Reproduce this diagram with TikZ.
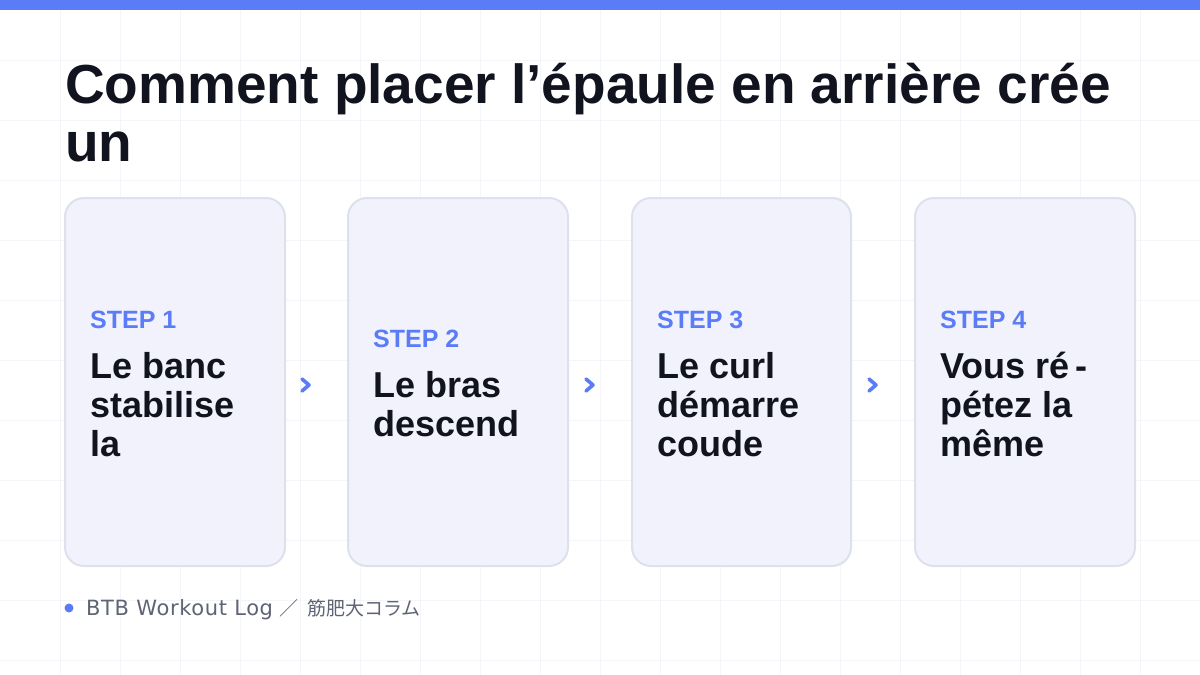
\documentclass[tikz,border=0pt]{standalone}
\usepackage{fontspec}
\setmainfont{Liberation Sans}
\newfontfamily\footfont[LetterSpace=3]{DejaVu Sans}
\newfontfamily\cjkfont{Noto Sans CJK JP}
\definecolor{accent}{HTML}{5B7CF7}
\definecolor{ink}{HTML}{11131F}
\definecolor{cardfill}{HTML}{F1F2FB}
\definecolor{cardline}{HTML}{DDE1EE}
\definecolor{gridc}{HTML}{F4F5F8}
\definecolor{muted}{HTML}{5F6474}
\tikzset{
  card/.style={draw=cardline, line width=2pt, fill=cardfill, rounded corners=19pt},
  steplabel/.style={anchor=base west, inner sep=0pt, text=accent, font=\fontsize{25}{28}\selectfont\bfseries},
  body/.style={anchor=base west, inner sep=0pt, text=ink, font=\fontsize{36}{39}\selectfont\bfseries, align=left},
  titletext/.style={anchor=base west, inner sep=0pt, text=ink, font=\fontsize{55}{58}\selectfont\bfseries},
  chevline/.style={draw=accent, line width=3.6pt, line cap=round, line join=round},
}
\begin{document}
\begin{tikzpicture}[x=1pt,y=-1pt]
\useasboundingbox (0,0) rectangle (1200,675);
\fill[white] (0,0) rectangle (1200,675);
\foreach \i in {60,120,...,1140} \draw[gridc, line width=1pt] (\i,10) -- (\i,675);
\foreach \j in {60,120,...,660} \draw[gridc, line width=1pt] (0,\j) -- (1200,\j);
\fill[accent] (0,0) rectangle (1200,10);
% title
\node[titletext] (t1) at (65,103) {Comment placer l’épaule en arrière crée};
\node[titletext] (t2) at (65,161) {un};
% cards
\draw[card] (65,198) rectangle (285,566);
\draw[card] (348,198) rectangle (568,566);
\draw[card] (632,198) rectangle (851,566);
\draw[card] (915,198) rectangle (1135,566);
% card texts
\node[steplabel] (s1) at (90,328) {STEP 1};
\node[body] (b1a) at (90,378) {Le banc};
\node[body] (b1b) at (90,417) {stabilise};
\node[body] (b1c) at (90,456) {la};
\node[steplabel] (s2) at (373,347) {STEP 2};
\node[body] (b2a) at (373,397) {Le bras};
\node[body] (b2b) at (373,436) {descend};
\node[steplabel] (s3) at (657,328) {STEP 3};
\node[body] (b3a) at (657,378) {Le curl};
\node[body] (b3b) at (657,417) {démarre};
\node[body] (b3c) at (657,456) {coude};
\node[steplabel] (s4) at (940,328) {STEP 4};
\node[body] (b4a) at (940,378) {Vous ré\,-};
\node[body] (b4b) at (940,417) {pétez la};
\node[body] (b4c) at (940,456) {même};
% chevrons
\coordinate (a1) at (306,385);
\coordinate (a2) at (590,385);
\coordinate (a3) at (873,385);
\foreach \a in {a1,a2,a3} \draw[chevline] (\a) ++(-4,-6) -- ++(7,6) -- ++(-7,6);
% footer
\fill[accent] (69,608) circle (4.5);
\node[anchor=base west, inner sep=0pt, text=muted, font=\fontsize{21}{22}\selectfont] (foot) at (86,615) {{\footfont BTB Workout Log}\hspace{6pt}{\cjkfont\fontsize{19}{22}\selectfont ／\hspace{9pt}筋肥大コラム}};
\end{tikzpicture}
\end{document}
